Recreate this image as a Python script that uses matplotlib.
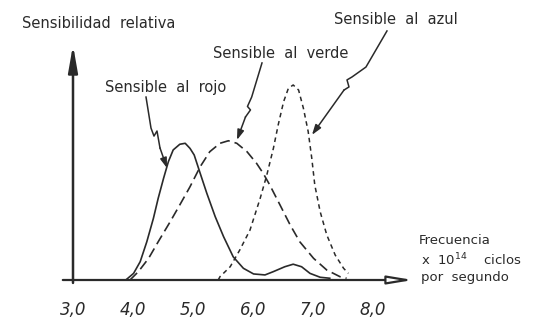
import matplotlib.pyplot as plt

# frequency (x 10^14 Hz) and relative sensitivity (blue peak = 100)
rojo_f = [3.88, 4.01, 4.12, 4.23, 4.34, 4.42, 4.51, 4.59, 4.67, 4.78, 4.87, 4.95, 5.02,
          5.12, 5.23, 5.37, 5.51, 5.67, 5.84, 6.01, 6.20, 6.34, 6.53, 6.67, 6.81, 6.95,
          7.12, 7.28]
rojo_s = [0, 3.4, 9.4, 19.6, 31.6, 41.9, 52.2, 60.7, 66.7, 69.6, 70.1, 67.5, 64.1,
          54.7, 44.5, 32.5, 22.2, 11.9, 6.0, 3.1, 2.6, 4.3, 6.8, 8.1, 6.8, 3.4,
          1.4, 0.9]

verde_f = [3.95, 4.09, 4.26, 4.42, 4.62, 4.78, 4.95, 5.12, 5.28, 5.45, 5.59, 5.73, 5.90,
           6.06, 6.17, 6.28, 6.45, 6.62, 6.78, 7.01, 7.23, 7.45, 7.56]
verde_s = [0, 4.3, 11.1, 19.6, 29.9, 38.5, 47.8, 58.1, 65.8, 70.1, 71.4, 70.1, 65.8,
           59.8, 54.7, 48.7, 38.5, 28.2, 19.6, 11.1, 5.1, 1.7, 0.9]

azul_f = [5.42, 5.45, 5.62, 5.78, 5.95, 6.12, 6.23, 6.34, 6.42, 6.51, 6.59, 6.67, 6.76,
          6.84, 6.92, 6.98, 7.03, 7.12, 7.23, 7.37, 7.51, 7.59]
azul_s = [0, 1.7, 6.8, 15.4, 25.6, 41.9, 53.8, 67.5, 79.5, 91.4, 98.3, 100, 97.4,
          88.1, 76.1, 62.4, 48.7, 35.0, 23.1, 12.8, 6.0, 3.4]

ticks = [3, 4, 5, 6, 7, 8]
tick_labels = ['3,0', '4,0', '5,0', '6,0', '7,0', '8,0']

ink = '#2a2a2a'
W, H = 550, 324

fig = plt.figure(figsize=(5.5, 3.24), dpi=100)
ax = fig.add_axes([73 / W, 44 / H, 340 / W, 235 / H])
ax.set_xlim(3, 8.667)
ax.set_ylim(0, 120.5)
for s in ax.spines.values():
    s.set_visible(False)
ax.set_yticks([])
ax.set_xticks(ticks)
ax.set_xticklabels(tick_labels, fontstyle='italic', fontsize=12, color=ink)
ax.tick_params(axis='x', length=0, pad=15)

# axes drawn as arrows
ax.annotate('', xy=(8.667, 0), xytext=(2.83, 0), annotation_clip=False,
            arrowprops=dict(arrowstyle='-|>,head_length=1.5,head_width=0.25',
                            lw=1.6, color=ink, fc='white', shrinkA=0, shrinkB=0))
ax.annotate('', xy=(3, 120.5), xytext=(3, -1.5), annotation_clip=False,
            arrowprops=dict(arrowstyle='-|>,head_length=1.6,head_width=0.28',
                            lw=1.8, color=ink, shrinkA=0, shrinkB=0))

ax.plot(rojo_f, rojo_s, color=ink, lw=1.2, solid_joinstyle='round')
ax.plot(verde_f, verde_s, color=ink, lw=1.2, dashes=(6, 3))
ax.plot(azul_f, azul_s, color=ink, lw=1.1, dashes=(3, 2.5))

# wavy leader lines
leaders = [
    ([4.217, 4.30, 4.35, 4.40, 4.45], [93.8, 77.9, 73.8, 76.4, 67.7], (4.567, 57.4)),
    ([6.15, 5.978, 5.908, 5.958, 5.875], [111.3, 93.8, 89.0, 87.2, 83.6], (5.733, 71.8)),
    ([8.233, 7.883, 7.65, 7.567, 7.60, 7.517], [127.7, 109.2, 104.1, 102.6, 99.0, 97.4], (6.983, 74.4)),
]
for lx, ly, tip in leaders:
    ax.plot(lx, ly, color=ink, lw=1.1, clip_on=False)
    ax.annotate('', xy=tip, xytext=(lx[-1], ly[-1]), annotation_clip=False,
                arrowprops=dict(arrowstyle='-|>,head_length=0.6,head_width=0.2',
                                lw=1.1, color=ink, shrinkA=0, shrinkB=0))

txt = dict(color=ink, fontsize=10.5, va='center', ha='left')
fig.text(22 / W, 1 - 23 / H, 'Sensibilidad  relativa', **txt)
fig.text(105 / W, 1 - 87 / H, 'Sensible  al  rojo', **txt)
fig.text(213 / W, 1 - 53 / H, 'Sensible  al  verde', **txt)
fig.text(334 / W, 1 - 20 / H, 'Sensible  al  azul', **txt)

small = dict(color=ink, fontsize=9.5, va='center', ha='left')
fig.text(419 / W, 1 - 241 / H, 'Frecuencia', **small)
fig.text(421 / W, 1 - 260 / H, r'x  10$^{14}$    ciclos', **small)
fig.text(421 / W, 1 - 277 / H, 'por  segundo', **small)

fig.savefig('out.png', dpi=100, facecolor='white')
